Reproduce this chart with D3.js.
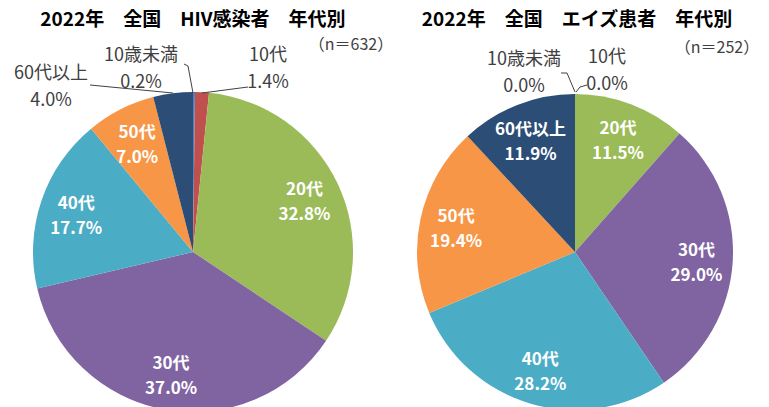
<!DOCTYPE html>
<html>
<head>
<meta charset="utf-8">
<script src="https://cdn.jsdelivr.net/npm/d3@7"></script>
<style>
  body { margin: 0; background: #fff; }
  svg { display: block; font-family: "Noto Sans CJK JP", "Noto Sans", sans-serif; }
</style>
</head>
<body>
<script>
var W = 769, H = 407;

// 年代区分（上から時計回り）
var categories = ["10歳未満", "10代", "20代", "30代", "40代", "50代", "60代以上"];
var colors = ["#4f81bd", "#c0504d", "#9bbb59", "#8064a2", "#4bacc6", "#f79646", "#2c4d75"];

var hivValues = [0.2, 1.4, 32.8, 37.0, 17.7, 7.0, 4.0];
var aidsValues = [0.0, 0.0, 11.5, 29.0, 28.2, 19.4, 11.9];

var titles = ["2022年　全国　HIV感染者　年代別", "2022年　全国　エイズ患者　年代別"];
var counts = ["（n＝632）", "（n＝252）"];

var svg = d3.select("body").append("svg")
  .attr("width", W)
  .attr("height", H);

var charts = [
  {cx: 193, cy: 252, r: 160, values: hivValues, title: titles[0], n: counts[0], tx: 193, nx: 351, ny: 50,
   inside: [2, 3, 4, 5],
   outside: [
     {i: 0, x: 141, y: 55, line: [[184, 64], [188, 66], [193, 93]]},
     {i: 1, x: 268, y: 55, line: [[248, 87], [202, 93]]},
     {i: 6, x: 51, y: 73, line: [[90, 85], [173, 93]]}
   ]},
  {cx: 575, cy: 252, r: 158, values: aidsValues, title: titles[1], n: counts[1], tx: 577, nx: 717, ny: 53,
   inside: [2, 3, 4, 5, 6],
   outside: [
     {i: 0, x: 524, y: 59, line: [[561, 73], [567, 73], [575, 92]]},
     {i: 1, x: 607, y: 57, line: [[587, 85], [580, 87], [576, 92]]}
   ]}
];

var pie = d3.pie().sort(null).value(function(d){ return d; });

charts.forEach(function(c){
  var g = svg.append("g").attr("transform", "translate(" + c.cx + "," + c.cy + ")");
  var arcs = pie(c.values);
  var arc = d3.arc().innerRadius(0).outerRadius(c.r);
  var labelArc = d3.arc().innerRadius(c.r * 0.77).outerRadius(c.r * 0.77);

  g.selectAll("path")
    .data(arcs)
    .enter()
    .append("path")
    .attr("d", arc)
    .attr("fill", function(d, i){ return colors[i]; });

  c.inside.forEach(function(i){
    var p = labelArc.centroid(arcs[i]);
    var t = g.append("text")
      .attr("text-anchor", "middle")
      .attr("fill", "#fff")
      .style("font-size", "17px")
      .style("font-weight", "bold");
    t.append("tspan").attr("x", p[0]).attr("y", p[1] - 4).text(categories[i]);
    t.append("tspan").attr("x", p[0]).attr("y", p[1] + 21).text(c.values[i].toFixed(1) + "%");
  });

  // 小さい区分は外側にラベル
  c.outside.forEach(function(o){
    svg.append("polyline")
      .attr("points", o.line.map(function(p){ return p.join(","); }).join(" "))
      .attr("fill", "none")
      .attr("stroke", "#404040")
      .attr("stroke-width", 1);
    var t = svg.append("text")
      .attr("text-anchor", "middle")
      .attr("fill", "#404040")
      .style("font-size", "18px");
    t.append("tspan").attr("x", o.x).attr("y", o.y + 6).text(categories[o.i]);
    t.append("tspan").attr("x", o.x).attr("y", o.y + 33).text(c.values[o.i].toFixed(1) + "%");
  });

  svg.append("text")
    .attr("x", c.tx)
    .attr("y", 26)
    .attr("text-anchor", "middle")
    .attr("fill", "#000")
    .style("font-size", "19px")
    .style("font-weight", "bold")
    .text(c.title);

  svg.append("text")
    .attr("x", c.nx)
    .attr("y", c.ny)
    .attr("text-anchor", "middle")
    .attr("fill", "#404040")
    .style("font-size", "16px")
    .text(c.n);
});
</script>
</body>
</html>
